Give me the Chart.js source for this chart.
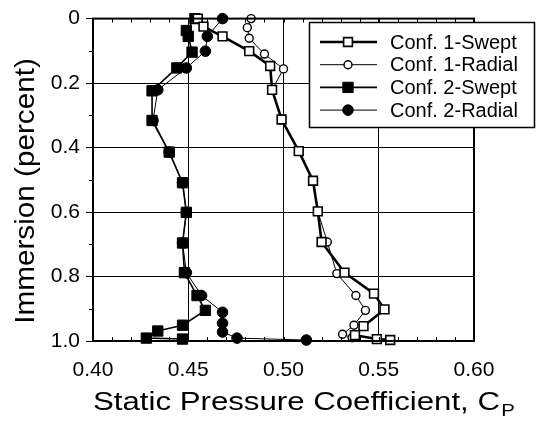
<!DOCTYPE html>
<html>
<head>
<meta charset="utf-8">
<script src="https://cdn.jsdelivr.net/npm/chart.js@4/dist/chart.umd.min.js"></script>
<style>
  html, body { margin: 0; padding: 0; background: #fff; }
  #wrap { width: 537px; height: 425px; }
</style>
</head>
<body>
<div id="wrap"><canvas id="myChart" width="537" height="425"></canvas></div>
<script>
// data: static pressure coefficient vs immersion
const c1SweptCp  = [0.455, 0.458, 0.468, 0.482, 0.493, 0.494, 0.499, 0.508, 0.5155, 0.518, 0.520, 0.532, 0.5475, 0.553, 0.542, 0.5375, 0.549, 0.556];
const c1SweptIm  = [0.0, 0.025, 0.055, 0.101, 0.147, 0.221, 0.313, 0.411, 0.503, 0.598, 0.693, 0.788, 0.853, 0.902, 0.954, 0.982, 0.994, 0.997];
const c1RadialCp = [0.483, 0.481, 0.482, 0.490, 0.500, 0.494, 0.499, 0.508, 0.5155, 0.518, 0.523, 0.528, 0.538, 0.543, 0.537, 0.531, 0.536];
const c1RadialIm = [0.0, 0.028, 0.061, 0.110, 0.156, 0.221, 0.313, 0.411, 0.503, 0.598, 0.693, 0.791, 0.859, 0.905, 0.951, 0.979, 0.990];
const c2SweptCp  = [0.4535, 0.449, 0.450, 0.452, 0.444, 0.431, 0.431, 0.440, 0.447, 0.449, 0.447, 0.448, 0.4546, 0.459, 0.447, 0.434, 0.428, 0.447];
const c2SweptIm  = [0.0, 0.037, 0.055, 0.104, 0.153, 0.224, 0.316, 0.414, 0.509, 0.601, 0.696, 0.788, 0.859, 0.905, 0.951, 0.969, 0.991, 0.994];
const c2RadialCp = [0.468, 0.460, 0.459, 0.449, 0.434, 0.4315, 0.440, 0.447, 0.449, 0.447, 0.449, 0.457, 0.468, 0.468, 0.468, 0.4756, 0.512];
const c2RadialIm = [0.0, 0.055, 0.101, 0.153, 0.221, 0.316, 0.414, 0.509, 0.601, 0.696, 0.788, 0.859, 0.911, 0.945, 0.972, 0.991, 0.997];

const seriesNames = ['Conf. 1-Swept', 'Conf. 1-Radial', 'Conf. 2-Swept', 'Conf. 2-Radial'];
const xTicks = [0.40, 0.45, 0.50, 0.55, 0.60];
const yTicks = [0, 0.2, 0.4, 0.6, 0.8, 1.0];

const pts = (xs, ys) => xs.map((x, i) => ({ x: x, y: ys[i] }));
const FONT = 'Liberation Sans, Arial, Helvetica, sans-serif';

function series(label, xs, ys, style, radius, fill, lineW, markW) {
  return {
    label: label,
    data: pts(xs, ys),
    showLine: true,
    clip: false,
    borderColor: '#000',
    borderWidth: lineW,
    pointStyle: style,
    pointRadius: radius,
    pointHoverRadius: radius,
    pointBackgroundColor: fill,
    pointBorderColor: '#000',
    pointBorderWidth: markW
  };
}

// frame, minor ticks, titles and the boxed legend
const decor = {
  id: 'decor',
  afterDraw(chart) {
    const ctx = chart.ctx;
    const a = chart.chartArea;
    const xs = chart.scales.x, ys = chart.scales.y;
    ctx.save();
    ctx.strokeStyle = '#000';
    ctx.lineWidth = 1;
    // minor ticks
    for (let v = 0.40; v <= 0.6001; v += 0.01) {
      const px = Math.round(xs.getPixelForValue(v)) + 0.5;
      ctx.beginPath();
      ctx.moveTo(px, a.top); ctx.lineTo(px, a.top + 4);
      ctx.moveTo(px, a.bottom); ctx.lineTo(px, a.bottom - 4);
      ctx.stroke();
    }
    for (let v = 0.1; v < 1; v += 0.2) {
      const py = Math.round(ys.getPixelForValue(v)) + 0.5;
      ctx.beginPath();
      ctx.moveTo(a.left - 4, py); ctx.lineTo(a.left, py);
      ctx.stroke();
    }
    // frame
    ctx.lineWidth = 2;
    ctx.strokeRect(a.left, a.top, a.right - a.left, a.bottom - a.top);

    // y title
    ctx.fillStyle = '#000';
    ctx.save();
    ctx.translate(34, 191);
    ctx.rotate(-Math.PI / 2);
    ctx.scale(1.06, 1);
    ctx.font = '28px ' + FONT;
    ctx.textAlign = 'center';
    ctx.textBaseline = 'alphabetic';
    ctx.fillText('Immersion (percent)', 0, 0);
    ctx.restore();

    // x title with subscript
    ctx.save();
    ctx.translate(93, 410);
    ctx.scale(1.2, 1);
    ctx.font = '26px ' + FONT;
    ctx.textAlign = 'left';
    ctx.textBaseline = 'alphabetic';
    const main = 'Static Pressure Coefficient, C';
    ctx.fillText(main, 0, 0);
    const w = ctx.measureText(main).width;
    ctx.font = '17px ' + FONT;
    ctx.fillText('P', w + 1, 6);
    ctx.restore();

    // legend
    const bx = 309.5, by = 22.5, bw = 225, bh = 105;
    ctx.fillStyle = '#fff';
    ctx.fillRect(bx, by, bw, bh);
    ctx.lineWidth = 1.5;
    ctx.strokeRect(bx, by, bw, bh);
    chart.data.datasets.forEach((ds, i) => {
      const y = 42 + i * 22.7;
      ctx.strokeStyle = '#000';
      ctx.lineWidth = ds.borderWidth;
      ctx.beginPath();
      ctx.moveTo(320, y); ctx.lineTo(377, y);
      ctx.stroke();
      ctx.fillStyle = ds.pointBackgroundColor;
      ctx.lineWidth = ds.pointBorderWidth;
      Chart.helpers.drawPoint(ctx, {
        pointStyle: ds.pointStyle, radius: ds.pointRadius, rotation: 0, borderWidth: ds.pointBorderWidth
      }, 348, y);
      ctx.fillStyle = '#000';
      ctx.font = '20px ' + FONT;
      ctx.textAlign = 'left';
      ctx.textBaseline = 'middle';
      ctx.fillText(ds.label, 390, y + 1);
    });
    ctx.restore();
  }
};

const ctx = document.getElementById('myChart').getContext('2d');
const myChart = new Chart(ctx, {
  type: 'scatter',
  data: {
    datasets: [
      series(seriesNames[0], c1SweptCp, c1SweptIm, 'rect', 6.2, '#fff', 2.6, 1.6),
      series(seriesNames[1], c1RadialCp, c1RadialIm, 'circle', 4, '#fff', 1, 1.4),
      series(seriesNames[2], c2SweptCp, c2SweptIm, 'rect', 7.3, '#000', 1.6, 1),
      series(seriesNames[3], c2RadialCp, c2RadialIm, 'circle', 5.3, '#000', 1, 1)
    ]
  },
  options: {
    responsive: false,
    animation: false,
    layout: { padding: { left: 0, right: 63, top: 15, bottom: 0 } },
    plugins: { legend: { display: false }, tooltip: { enabled: false } },
    scales: {
      x: {
        type: 'linear',
        min: 0.40, max: 0.60,
        afterBuildTicks: (s) => { s.ticks = xTicks.map(v => ({ value: v })); },
        afterFit: (s) => { s.height = 84; },
        grid: { color: '#000', lineWidth: 1, drawTicks: false },
        border: { display: false },
        ticks: {
          color: '#000', padding: 17, font: { family: FONT, size: 21 },
          callback: (v) => Number(v).toFixed(2)
        }
      },
      y: {
        type: 'linear',
        reverse: true,
        min: 0, max: 1,
        afterBuildTicks: (s) => { s.ticks = yTicks.map(v => ({ value: v })); },
        afterFit: (s) => { s.width = 93; },
        grid: { color: '#000', lineWidth: 1, tickLength: 7 },
        border: { display: false },
        ticks: {
          color: '#000', padding: 6, font: { family: FONT, size: 21 },
          callback: (v) => v === 0 ? '0' : Number(v).toFixed(1)
        }
      }
    }
  },
  plugins: [decor]
});
</script>
</body>
</html>
